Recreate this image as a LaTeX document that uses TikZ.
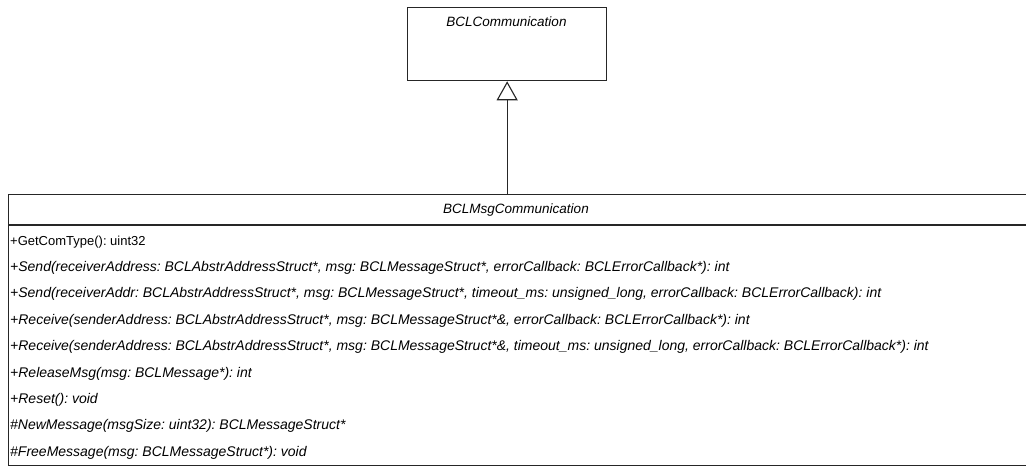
\documentclass[tikz,border=0pt]{standalone}
\usepackage{fontspec}
\setmainfont{Liberation Sans}
\usetikzlibrary{arrows.meta}
\frenchspacing
\begin{document}
\begin{tikzpicture}[x=1pt,y=-1pt,
  classbox/.style={draw=black!85, line width=1.3pt, rectangle, inner sep=0pt, anchor=north west},
  cname/.style={font=\fontsize{13.5}{15}\selectfont\itshape, anchor=base, inner sep=0pt},
  member/.style={font=\fontsize{13}{15}\selectfont, anchor=base west, inner sep=0pt},
  abstract/.style={member, font=\fontsize{14}{15}\selectfont\itshape},
  inherit/.style={draw=black!85, line width=1.3pt, -{Triangle[open, length=19pt, width=21pt, line width=1.1pt]}}]
\useasboundingbox (0,0) rectangle (1026,466);
\clip (0,0) rectangle (1026,466);
\fill[white] (0,0) rectangle (1026,466);

% base class
\node[classbox, minimum width=199pt, minimum height=73pt] (base) at (407,7) {};
\node[cname] (baseName) at (506.5,26) {BCLCommunication};

% derived class
\node[classbox, minimum width=1022pt, minimum height=271pt] (msg) at (8,194) {};
\node[cname] (msgName) at (516,213.5) {BCLMsgCommunication};
\coordinate (sepL) at (8,225);
\coordinate (sepR) at (1030,225);
\draw[draw=black!85, line width=1.3pt] (sepL) -- (sepR);

% operations
\node[member]   (op1) at (10,245.0) {+GetComType(): uint32};
\node[abstract] (op2) at (10,271.4) {+Send(receiverAddress: BCLAbstrAddressStruct*, msg: BCLMessageStruct*, errorCallback: BCLErrorCallback*): int};
\node[abstract] (op3) at (10,297.8) {+Send(receiverAddr: BCLAbstrAddressStruct*, msg: BCLMessageStruct*, timeout\_ms: unsigned\_long, errorCallback: BCLErrorCallback): int};
\node[abstract] (op4) at (10,324.2) {+Receive(senderAddress: BCLAbstrAddressStruct*, msg: BCLMessageStruct*\&, errorCallback: BCLErrorCallback*): int};
\node[abstract] (op5) at (10,350.6) {+Receive(senderAddress: BCLAbstrAddressStruct*, msg: BCLMessageStruct*\&, timeout\_ms: unsigned\_long, errorCallback: BCLErrorCallback*): int};
\node[abstract] (op6) at (10,377.0) {+ReleaseMsg(msg: BCLMessage*): int};
\node[abstract] (op7) at (10,403.4) {+Reset(): void};
\node[abstract] (op8) at (10,429.8) {\#NewMessage(msgSize: uint32): BCLMessageStruct*};
\node[abstract] (op9) at (10,456.2) {\#FreeMessage(msg: BCLMessageStruct*): void};

% generalization
\draw[inherit] (msg.north -| base.south) -- (base.south);
\end{tikzpicture}
\end{document}
